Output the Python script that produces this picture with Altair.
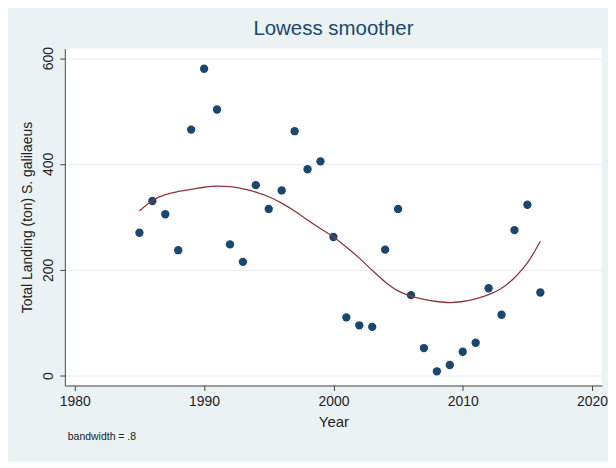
import altair as alt
import pandas as pd

years = list(range(1985, 2017))
landing = [270, 330, 305, 237, 465, 580, 503, 248, 215, 360, 315, 350, 462, 390, 405,
           262, 110, 95, 92, 238, 315, 152, 52, 8, 20, 45, 62, 165, 115, 275, 323, 157]
# lowess (bandwidth .8) curve
lowess = [311, 331, 342, 348, 352, 356, 358, 357, 353, 347, 338, 326, 311, 294, 278,
          262, 243, 222, 199, 177, 160, 150, 144, 140, 138, 140, 145, 153, 165, 185, 213, 254]
x_ticks = [1980, 1990, 2000, 2010, 2020]
y_ticks = [0, 200, 400, 600]
note = ["bandwidth = .8"]

df = pd.DataFrame({"Year": years, "Landing": landing})
dl = pd.DataFrame({"Year": years, "Smooth": lowess})
navy = "#1a476f"
maroon = "#90353b"
font = "Liberation Sans"

xs = alt.Scale(domain=[1979.23, 2020.77], nice=False, zero=False)
ys = alt.Scale(domain=[-18.8, 618.1], nice=False, zero=False)

xax = alt.Axis(values=x_ticks, format="d", title="Year", grid=False, tickSize=5,
               domainColor="#444", tickColor="#444", labelColor="#222", titleColor="#222",
               labelFontSize=14, titleFontSize=15, titleFontWeight="normal",
               labelPadding=4, titlePadding=6, labelFont=font, titleFont=font)
yax = alt.Axis(values=y_ticks, title="Total Landing (ton) S. galilaeus", grid=True,
               gridColor="#e6eef0", gridWidth=1, tickSize=5,
               domainColor="#444", tickColor="#444", labelColor="#222", titleColor="#222",
               labelFontSize=14, titleFontSize=14, titleFontWeight="normal",
               labelAngle=270, labelAlign="center",
               labelBaseline="bottom", labelPadding=4, titlePadding=7,
               labelFont=font, titleFont=font)

pts = alt.Chart(df).mark_circle(size=70, color=navy, opacity=1).encode(
    x=alt.X("Year:Q", scale=xs, axis=xax),
    y=alt.Y("Landing:Q", scale=ys, axis=yax),
)
smooth = alt.Chart(dl).mark_line(color=maroon, strokeWidth=1.3, interpolate="monotone").encode(
    x=alt.X("Year:Q", scale=xs),
    y=alt.Y("Smooth:Q", scale=ys),
)
txt = alt.Chart(pd.DataFrame({"t": note})).mark_text(
    align="left", baseline="middle", fontSize=10.5, font=font, color="#222").encode(
    x=alt.value(3), y=alt.value(390), text="t:N")

chart = alt.layer(pts, smooth, txt).properties(
    width=539, height=338,
    title=alt.Title("Lowess smoother", fontSize=20.5, font=font, color=navy,
                    fontWeight="normal", anchor="middle", offset=7),
    background="#eaf2f3",
    padding={"left": 57, "top": 40, "right": 6, "bottom": 76},
    autosize=alt.AutoSizeParams(type="none"),
).configure_view(fill="white", stroke=None)

chart.save("out.html", embed_options={"renderer": "svg", "actions": False})
